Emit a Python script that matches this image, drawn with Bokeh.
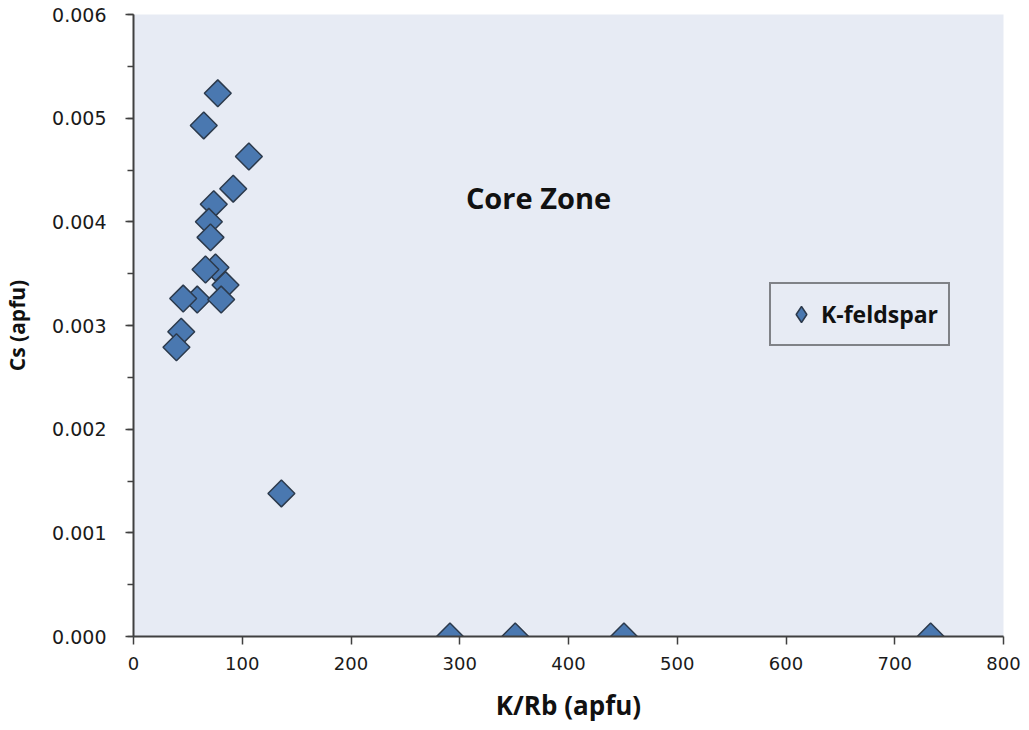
import math
from bokeh.plotting import figure
from bokeh.models import (ColumnDataSource, Label, Legend, LegendItem,
                          SingleIntervalTicker, NumeralTickFormatter, Range1d)
from bokeh.embed import file_html
from bokeh.resources import INLINE

# ---- data ----
k_rb = [77.5, 64.6, 106.1, 91.7, 73.8, 69.3, 70.8, 75.4, 66.2, 84.6,
        58.6, 45.7, 80.6, 43.9, 39.5, 136.0, 291.0, 351.0, 451.0, 733.0]
cs = [0.00524, 0.00493, 0.00463, 0.00432, 0.00417, 0.00400, 0.00385,
      0.00356, 0.00354, 0.00339, 0.00325, 0.00326, 0.00325, 0.00294,
      0.00279, 0.00138, 0.0, 0.0, 0.0, 0.0]
series_name = "K-feldspar"
zone_title = "Core Zone"
x_title = "K/Rb (apfu)"
y_title = "Cs (apfu)"

BG = "#e7ebf4"
FILL = "#4a78b0"
EDGE = "#2c3a4c"
AX = "#404040"
TXT = "#111111"
BOLD_FONT = "Open Sans"

p = figure(width=1029, height=730, output_backend="svg", toolbar_location=None,
           x_range=Range1d(0, 800), y_range=Range1d(0, 0.006),
           min_border_left=133, min_border_right=26, min_border_top=14,
           min_border_bottom=94)
p.background_fill_color = BG
p.border_fill_color = "white"
p.outline_line_color = None
p.xgrid.visible = False
p.ygrid.visible = False

src = ColumnDataSource(dict(x=k_rb, y=cs))
r = p.scatter("x", "y", source=src, marker="square", size=19, angle=math.pi / 4,
              fill_color=FILL, line_color=EDGE, line_width=1.5)
# legend swatch renderer (diamond shape; NaN position so nothing is drawn in the plot)
r_leg = p.scatter(x=[float("nan")], y=[float("nan")], marker="diamond", size=19,
                  fill_color=FILL, line_color=EDGE, line_width=1.5)

# axes
p.xaxis.ticker = SingleIntervalTicker(interval=100, num_minor_ticks=0)
p.yaxis.ticker = SingleIntervalTicker(interval=0.001, num_minor_ticks=2)
p.yaxis.formatter = NumeralTickFormatter(format="0.000")
for ax in (p.xaxis[0], p.yaxis[0]):
    ax.axis_line_color = AX
    ax.axis_line_width = 2
    ax.major_tick_line_color = AX
    ax.major_tick_line_width = 1.5
    ax.major_tick_out = 8
    ax.major_tick_in = 0
    ax.minor_tick_line_color = AX
    ax.minor_tick_line_width = 1.5
    ax.minor_tick_out = 6
    ax.minor_tick_in = 0
    ax.major_label_text_font = "DejaVu Sans"
    ax.major_label_text_color = "#1a1a1a"
    ax.axis_label_text_font = BOLD_FONT
    ax.axis_label_text_font_style = "bold"
    ax.axis_label_text_color = TXT
p.yaxis.major_label_text_font_size = "19px"
p.xaxis.major_label_text_font_size = "18px"
p.yaxis.major_label_standoff = 19
p.xaxis.major_label_standoff = 12

p.xaxis.axis_label = x_title
p.xaxis.axis_label_text_font_size = "26px"
p.xaxis.axis_label_standoff = 14
p.yaxis.axis_label = y_title
p.yaxis.axis_label_text_font_size = "21px"
p.yaxis.axis_label_standoff = 18

# legend
legend = Legend(items=[LegendItem(label=series_name, renderers=[r_leg])],
                location=(636, 290), orientation="vertical")
legend.background_fill_color = BG
legend.background_fill_alpha = 1.0
legend.border_line_color = "#1a1a1a"
legend.border_line_width = 2
legend.label_text_font = BOLD_FONT
legend.label_text_font_style = "bold"
legend.label_text_font_size = "23px"
legend.label_text_color = TXT
legend.glyph_width = 40
legend.glyph_height = 40
legend.padding = 10
legend.margin = 0
legend.label_standoff = 0
p.add_layout(legend, "center")

# zone label
p.add_layout(Label(x=372.4, y=0.004235, text=zone_title, text_align="center",
                   text_baseline="middle", text_font=BOLD_FONT, text_font_style="bold",
                   text_font_size="29px", text_color=TXT))

open("out.html", "w").write(file_html(p, INLINE))
